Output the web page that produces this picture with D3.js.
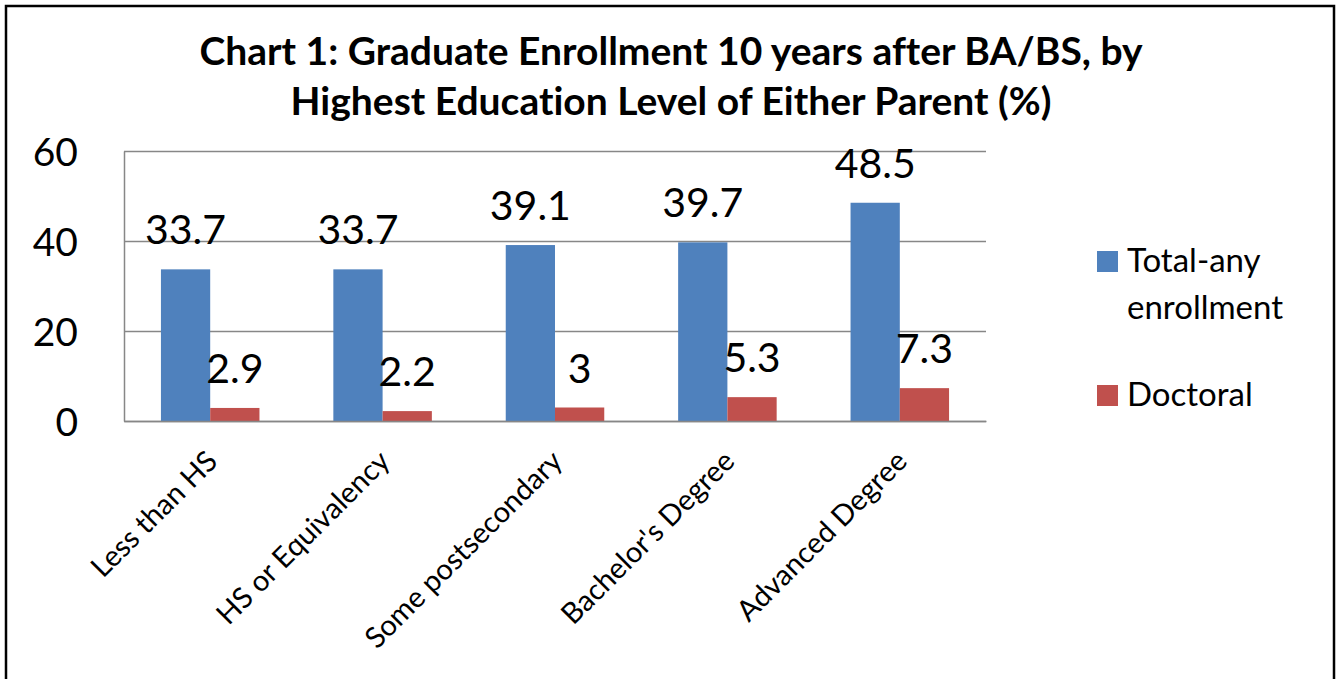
<!DOCTYPE html>
<html>
<head>
<meta charset="utf-8">
<script src="https://cdn.jsdelivr.net/npm/d3@7"></script>
<style>
	body { margin: 0; background: #fff; }
	svg { display: block; font-family: Lato, "Open Sans", sans-serif; font-variant-ligatures: none; }
</style>
</head>
<body>
<div class="chart"></div>
<script>

var categories = ['Less than HS', 'HS or Equivalency', 'Some postsecondary', "Bachelor's Degree", 'Advanced Degree'];
var seriesNames = ['Total-any enrollment', 'Doctoral'];
var totalAny = [33.7, 33.7, 39.1, 39.7, 48.5];
var doctoral = [2.9, 2.2, 3, 5.3, 7.3];
var yTicks = [0, 20, 40, 60];
var titleLines = ['Chart 1: Graduate Enrollment 10 years after BA/BS, by', 'Highest Education Level of Either Parent (%)'];

var w = 1338;
var h = 679;
var colors = ['#4F81BD', '#C0504D'];

var svg = d3.select('.chart')
	.append('svg')
	.attr('width', w)
	.attr('height', h);

svg.append('rect')
	.attr('x', 6).attr('y', 6)
	.attr('width', 1328).attr('height', h + 20)
	.attr('fill', '#fff')
	.attr('stroke', '#000')
	.attr('stroke-width', 2.5);

// title
svg.selectAll('text.title')
	.data(titleLines)
	.enter()
	.append('text')
	.attr('class', 'title')
	.attr('x', 671)
	.attr('y', function(d, i){ return 65 + i * 50 })
	.attr('text-anchor', 'middle')
	.attr('font-size', 39)
	.attr('font-weight', 'bold')
	.text(function(d){ return d });

var plotLeft = 124, plotRight = 986, plotTop = 151, plotBottom = 421;

var x0 = d3.scaleBand()
	.domain(categories)
	.range([plotLeft, plotRight]);

var x1 = d3.scaleBand()
	.domain(seriesNames)
	.range([0, x0.bandwidth()])
	.paddingInner(0)
	.paddingOuter(0.75);

var y = d3.scaleLinear()
	.domain([0, 60])
	.range([plotBottom, plotTop]);

// gridlines
var grid = svg.append('g')
	.attr('transform', 'translate(' + plotLeft + ',0)')
	.call(d3.axisLeft(y).tickValues(yTicks).tickSize(-(plotRight - plotLeft)).tickFormat(''));
grid.select('.domain').remove();
grid.selectAll('line').attr('stroke', '#878787').attr('stroke-width', 1.5);

// y axis
var yAxis = svg.append('g')
	.attr('transform', 'translate(' + plotLeft + ',0)')
	.call(d3.axisLeft(y).tickValues(yTicks).tickSize(0).tickPadding(46));
yAxis.select('.domain').attr('stroke', '#878787').attr('stroke-width', 1.5);
yAxis.selectAll('text')
	.attr('font-size', 39)
	.attr('font-family', 'Lato, sans-serif')
	.attr('fill', '#000')
	.attr('dy', '0.36em');

// bars
var series = [totalAny, doctoral];
var groups = svg.selectAll('g.series')
	.data(series)
	.enter()
	.append('g')
	.attr('class', 'series')
	.attr('fill', function(d, i){ return colors[i] });

function rows(d, i){
	return d.map(function(v, j){ return {cat: categories[j], s: seriesNames[i], val: v} });
}

groups.selectAll('rect')
	.data(rows)
	.enter()
	.append('rect')
	.attr('x', function(d){ return x0(d.cat) + x1(d.s) })
	.attr('y', function(d){ return y(d.val) })
	.attr('width', x1.bandwidth())
	.attr('height', function(d){ return y(0) - y(d.val) });

groups.selectAll('text')
	.data(rows)
	.enter()
	.append('text')
	.attr('x', function(d){ return x0(d.cat) + x1(d.s) + x1.bandwidth() / 2 })
	.attr('y', function(d){ return y(d.val) - 25 })
	.attr('text-anchor', 'middle')
	.attr('font-size', 41)
	.attr('fill', '#000')
	.text(function(d){ return d.val });

// category axis
var xAxis = svg.append('g')
	.attr('transform', 'translate(0,' + plotBottom + ')')
	.call(d3.axisBottom(x0).tickSize(0).tickPadding(0));
xAxis.select('.domain').attr('stroke', '#878787').attr('stroke-width', 1.5);
xAxis.selectAll('text')
	.attr('font-size', 29)
	.attr('font-family', 'Lato, sans-serif')
	.attr('fill', '#000')
	.attr('text-anchor', 'end')
	.attr('dy', null)
	.attr('y', 0)
	.attr('transform', 'translate(9,42) rotate(-45)');

// legend
var legend = svg.selectAll('g.legend')
	.data(seriesNames)
	.enter()
	.append('g')
	.attr('class', 'legend')
	.attr('transform', function(d, i){ return 'translate(1097,' + (251 + i * 134) + ')' });

legend.append('rect')
	.attr('width', 21)
	.attr('height', 21)
	.attr('fill', function(d, i){ return colors[i] });

legend.append('text')
	.attr('x', 30)
	.attr('y', 21)
	.attr('font-size', 33)
	.attr('fill', '#000')
	.selectAll('tspan')
	.data(function(d){ return d === 'Total-any enrollment' ? ['Total-any', 'enrollment'] : [d] })
	.enter()
	.append('tspan')
	.attr('x', 30)
	.attr('dy', function(d, i){ return i ? 47 : 0 })
	.text(function(d){ return d });

</script>
</body>
</html>
